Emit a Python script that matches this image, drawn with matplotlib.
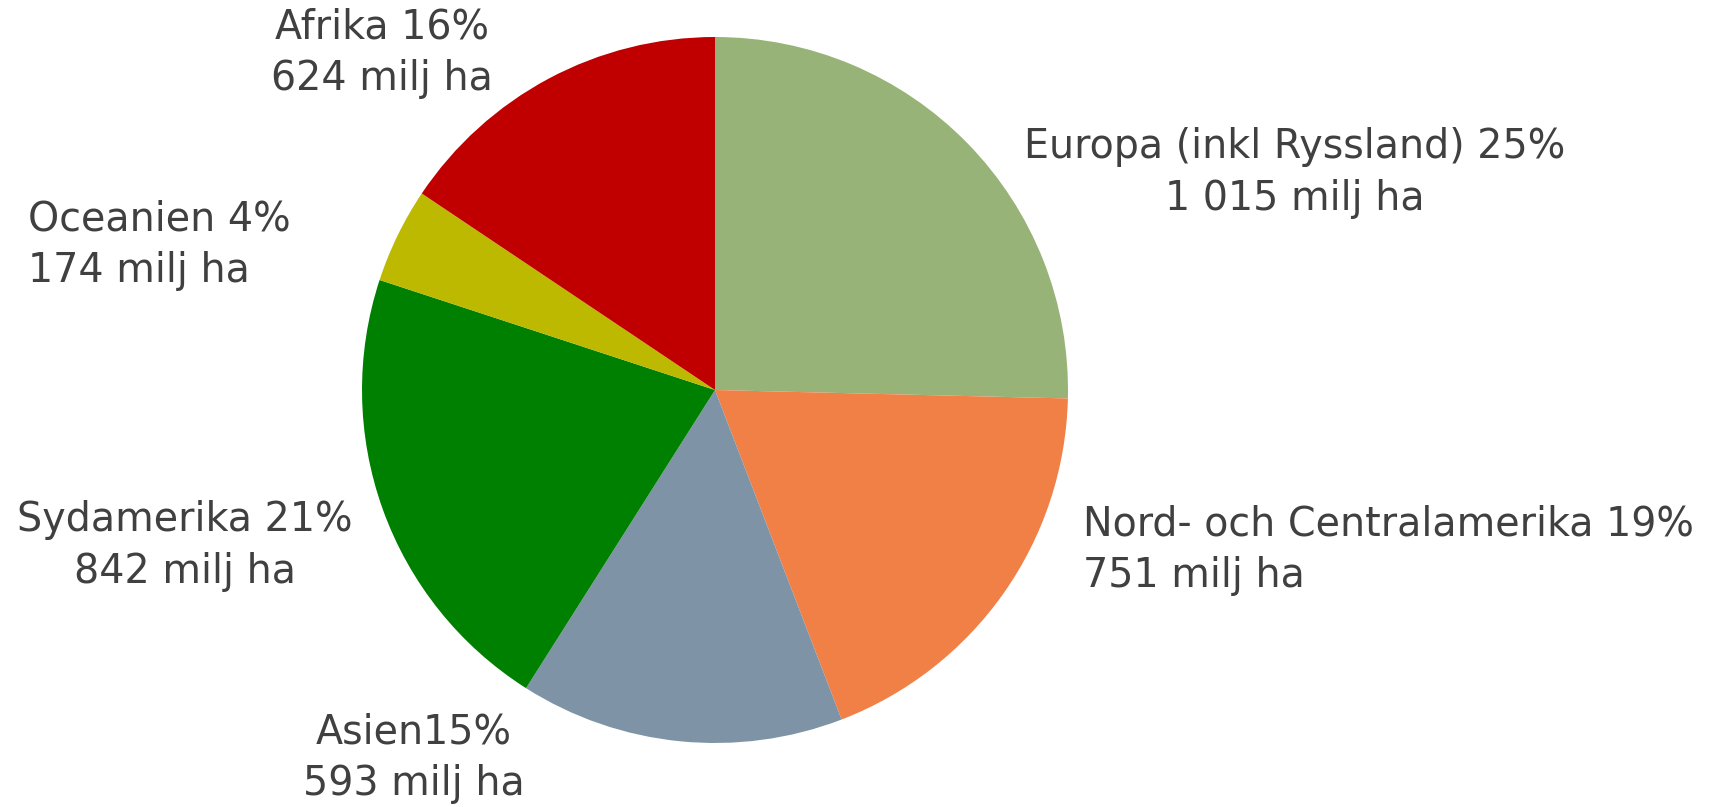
import matplotlib
matplotlib.use("Agg")
import matplotlib.pyplot as plt

regions = ["Europa (inkl Ryssland)", "Nord- och Centralamerika", "Asien", "Sydamerika", "Oceanien", "Afrika"]
values = [1015, 751, 593, 842, 174, 624]
percents = ["25%", "19%", "15%", "21%", "4%", "16%"]
value_labels = ["1 015 milj ha", "751 milj ha", "593 milj ha", "842 milj ha", "174 milj ha", "624 milj ha"]
colors = ["#97B378", "#F08046", "#7E93A6", "#008000", "#BCB900", "#C00000"]

W, H = 1736, 807
fig = plt.figure(figsize=(W / 100, H / 100), dpi=100)
ax = fig.add_axes([0, 0, 1, 1])

cx, cy, r = 715, H - 390, 353
ax.pie(values, colors=colors, startangle=90, counterclock=False,
       center=(cx, cy), radius=r, frame=True,
       wedgeprops=dict(linewidth=0))
ax.set_xlim(0, W)
ax.set_ylim(0, H)
ax.set_aspect("equal")
ax.axis("off")

# label layout: (x, y_px, ha, separator)
layout = [
    (1295, 173, "center", " "),
    (1083, 550, "left", " "),
    (414, 758, "center", ""),
    (185, 546, "center", " "),
    (28, 245, "left", " "),
    (382, 53, "center", " "),
]
for reg, pct, vl, (x, y, ha, sep) in zip(regions, percents, value_labels, layout):
    ax.text(x, H - y, f"{reg}{sep}{pct}\n{vl}", ha=ha, va="center",
            fontsize=28.5, color="#404040", family="DejaVu Sans", linespacing=1.38)

fig.savefig("out.png", dpi=100)
